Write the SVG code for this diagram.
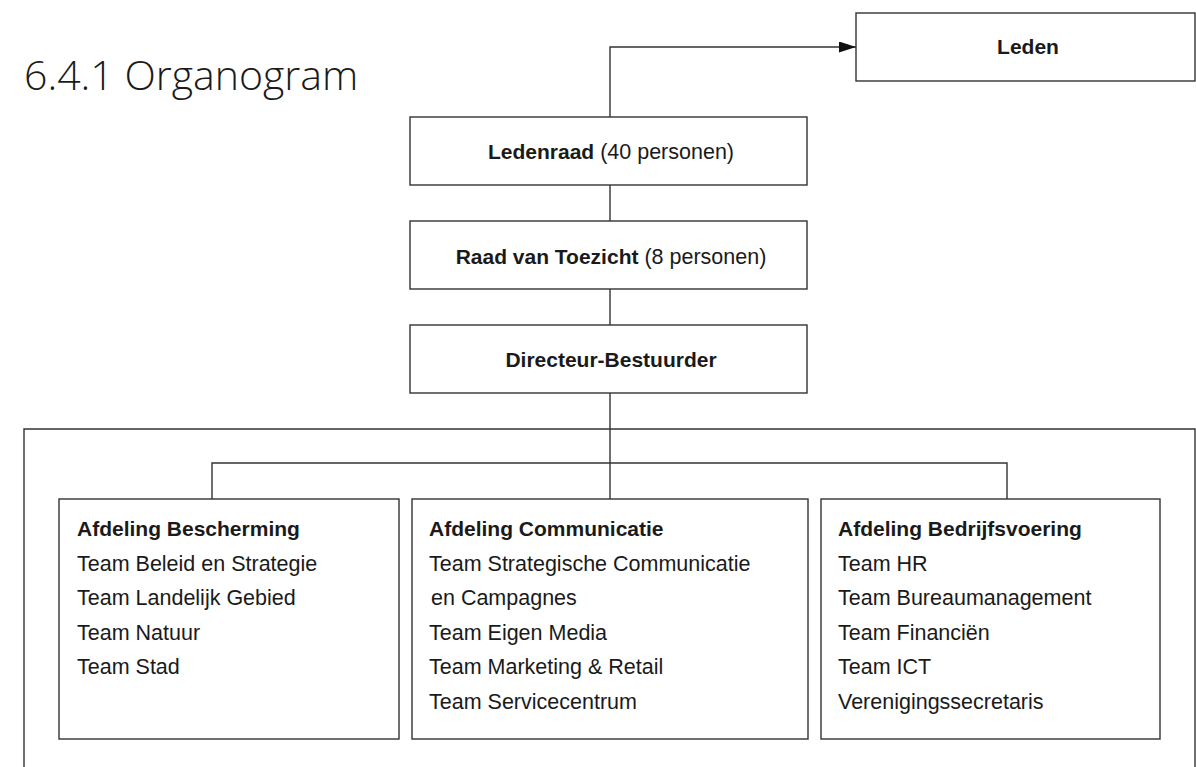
<svg xmlns="http://www.w3.org/2000/svg" width="1196" height="767" viewBox="0 0 1196 767">
<defs>
<style>
.box{fill:#fff;stroke:#333;stroke-width:1.4}
.ln{fill:none;stroke:#333;stroke-width:1.4}
text{font-family:"Liberation Sans",Arial,sans-serif;font-size:21.5px;fill:#1a1a1a}
.b{font-weight:bold;font-size:21px}
.c{text-anchor:middle}
.title{font-family:"Open Sans","Liberation Sans",sans-serif;font-weight:300;font-size:41px}
</style>
<marker id="arr" markerWidth="18" markerHeight="12" refX="17" refY="5.5" orient="auto" markerUnits="userSpaceOnUse">
<path d="M0,0 L17,5.5 L0,11 Z" fill="#111"/>
</marker>
</defs>
<rect width="1196" height="767" fill="#fff"/>
<text class="title" x="24" y="90">6.4.1 Organogram</text>
<g id="connectors">
<path class="ln" d="M24,780 V429 H1195 V780"/>
<path class="ln" d="M610,117 V47 H856" marker-end="url(#arr)"/>
<path class="ln" d="M610,185 V221"/>
<path class="ln" d="M610,289 V325"/>
<path class="ln" d="M610,393 V499"/>
<path class="ln" d="M212,499 V463 H1007 V499"/>
</g>
<g id="leden">
<rect class="box" x="856" y="13" width="339" height="68"/>
<text class="b c" x="1028" y="54">Leden</text>
</g>
<g id="ledenraad">
<rect class="box" x="410" y="117" width="397" height="68"/>
<text class="c" x="611" y="159"><tspan class="b">Ledenraad</tspan> (40 personen)</text>
</g>
<g id="rvt">
<rect class="box" x="410" y="221" width="397" height="68"/>
<text class="c" x="611" y="264"><tspan class="b">Raad van Toezicht</tspan> (8 personen)</text>
</g>
<g id="directeur">
<rect class="box" x="410" y="325" width="397" height="68"/>
<text class="b c" x="611" y="367">Directeur-Bestuurder</text>
</g>
<g id="bescherming">
<rect class="box" x="59" y="499" width="340" height="240"/>
<text class="b" x="77" y="536">Afdeling Bescherming</text>
<text x="77" y="570.5">Team Beleid en Strategie</text>
<text x="77" y="605">Team Landelijk Gebied</text>
<text x="77" y="639.5">Team Natuur</text>
<text x="77" y="674">Team Stad</text>
</g>
<g id="communicatie">
<rect class="box" x="412" y="499" width="396" height="240"/>
<text class="b" x="429" y="536">Afdeling Communicatie</text>
<text x="429" y="570.5">Team Strategische Communicatie</text>
<text x="431" y="605">en Campagnes</text>
<text x="429" y="639.5">Team Eigen Media</text>
<text x="429" y="674">Team Marketing &amp; Retail</text>
<text x="429" y="708.5">Team Servicecentrum</text>
</g>
<g id="bedrijfsvoering">
<rect class="box" x="821" y="499" width="339" height="240"/>
<text class="b" x="838" y="536">Afdeling Bedrijfsvoering</text>
<text x="838" y="570.5">Team HR</text>
<text x="838" y="605">Team Bureaumanagement</text>
<text x="838" y="639.5">Team Financiën</text>
<text x="838" y="674">Team ICT</text>
<text x="838" y="708.5">Verenigingssecretaris</text>
</g>
</svg>
